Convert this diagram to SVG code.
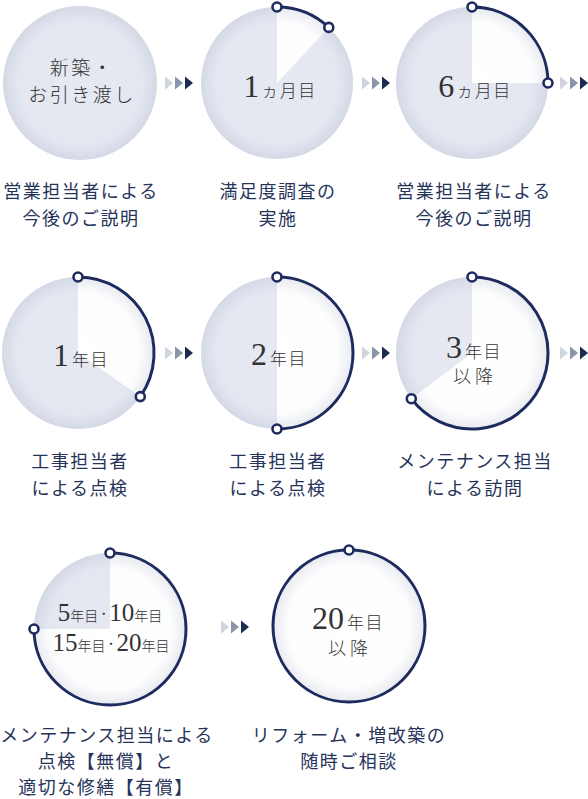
<svg xmlns="http://www.w3.org/2000/svg" width="588" height="799" viewBox="0 0 588 799">
<style>
.bg{fill:#ffffff}
.gray{fill:#e6e9f2}
.wht{fill:#ffffff}
.shade{fill:url(#shade)}
.ring{fill:none;stroke:#1e2b5e;stroke-width:3;stroke-linecap:round}
.dotn{fill:#ffffff;stroke:#1e2b5e;stroke-width:2.6}
.jp{font-family:"Noto Sans CJK JP","Noto Sans",sans-serif;font-weight:300}
.in{fill:#333333;text-anchor:middle}
.num{font-family:"Liberation Serif","DejaVu Serif",serif;font-size:32px;font-weight:400}
.num2{font-family:"Liberation Serif","DejaVu Serif",serif;font-size:25px;font-weight:400}
.unit{font-family:"Noto Sans CJK JP",sans-serif;font-size:17px;letter-spacing:1.5px;font-weight:300}
.unit2{font-family:"Noto Sans CJK JP",sans-serif;font-size:14px;font-weight:300}
.dt{font-family:"Noto Sans CJK JP",sans-serif;font-size:11px;font-weight:400}
.l2{font-family:"Noto Sans CJK JP",sans-serif;font-size:18px;letter-spacing:4px;font-weight:300}
.lbl{fill:#26335a;font-size:18px;letter-spacing:1.5px;text-anchor:middle;font-weight:400}
.a1{fill:#cfd4de}
.a2{fill:#8a95a9}
.a3{fill:#1b2c50}
</style>
<defs>
<radialGradient id="shade" cx="0.5" cy="0.5" r="0.5">
<stop offset="0" stop-color="#8d97b3" stop-opacity="0"/>
<stop offset="0.8" stop-color="#8d97b3" stop-opacity="0.02"/>
<stop offset="1" stop-color="#8d97b3" stop-opacity="0.2"/>
</radialGradient>
<g id="arr">
<polygon class="a1" points="0,-6.5 8,0 0,6.5"/>
<polygon class="a2" points="10,-6.5 18,0 10,6.5"/>
<polygon class="a3" points="20,-6.5 28,0 20,6.5"/>
</g>
</defs>
<rect class="bg" x="0" y="0" width="588" height="799"/>

<g id="node1">
<circle class="gray" cx="80" cy="83" r="77"/>
<circle class="shade" cx="80" cy="83" r="77"/>
<text class="jp in" x="82" y="75" font-size="19" letter-spacing="2.5">新築・</text>
<text class="jp in" x="82" y="102" font-size="19" letter-spacing="2.5">お引き渡し</text>
<text class="jp lbl" x="81" y="198">営業担当者による</text>
<text class="jp lbl" x="81" y="225">今後のご説明</text>
</g>

<g id="node2">
<circle class="gray" cx="277" cy="83" r="76"/>
<path class="wht" d="M277,83 L277,7 A76,76 0 0 1 328.8,27.4 Z"/>
<circle class="shade" cx="277" cy="83" r="76"/>
<path class="ring" d="M277,7 A76,76 0 0 1 328.8,27.4"/>
<circle class="dotn" cx="277" cy="7" r="4.5"/>
<circle class="dotn" cx="328.8" cy="27.4" r="4.5"/>
<text class="in" x="280" y="97"><tspan class="num">1</tspan><tspan class="unit" dx="2">ヵ月目</tspan></text>
<text class="jp lbl" x="278" y="198">満足度調査の</text>
<text class="jp lbl" x="278" y="225">実施</text>
</g>

<g id="node3">
<circle class="gray" cx="472" cy="83" r="76"/>
<path class="wht" d="M472,83 L472,7 A76,76 0 0 1 548,83 Z"/>
<circle class="shade" cx="472" cy="83" r="76"/>
<path class="ring" d="M472,7 A76,76 0 0 1 548,83"/>
<circle class="dotn" cx="472" cy="7" r="4.5"/>
<circle class="dotn" cx="548" cy="83" r="4.5"/>
<text class="in" x="475" y="97"><tspan class="num">6</tspan><tspan class="unit" dx="2">ヵ月目</tspan></text>
<text class="jp lbl" x="474" y="198">営業担当者による</text>
<text class="jp lbl" x="474" y="225">今後のご説明</text>
</g>

<g id="node4">
<circle class="gray" cx="78" cy="353" r="76"/>
<path class="wht" d="M78,353 L78,277 A76,76 0 0 1 140.3,396.6 Z"/>
<circle class="shade" cx="78" cy="353" r="76"/>
<path class="ring" d="M78,277 A76,76 0 0 1 140.3,396.6"/>
<circle class="dotn" cx="78" cy="277" r="4.5"/>
<circle class="dotn" cx="140.3" cy="396.6" r="4.5"/>
<text class="in" x="81" y="366"><tspan class="num">1</tspan><tspan class="unit" dx="3">年目</tspan></text>
<text class="jp lbl" x="80" y="468">工事担当者</text>
<text class="jp lbl" x="80" y="495">による点検</text>
</g>

<g id="node5">
<circle class="gray" cx="277" cy="353" r="76"/>
<path class="wht" d="M277,353 L277,277 A76,76 0 0 1 277,429 Z"/>
<circle class="shade" cx="277" cy="353" r="76"/>
<path class="ring" d="M277,277 A76,76 0 0 1 277,429"/>
<circle class="dotn" cx="277" cy="277" r="4.5"/>
<circle class="dotn" cx="277" cy="429" r="4.5"/>
<text class="in" x="279" y="365"><tspan class="num">2</tspan><tspan class="unit" dx="3">年目</tspan></text>
<text class="jp lbl" x="278" y="468">工事担当者</text>
<text class="jp lbl" x="278" y="495">による点検</text>
</g>

<g id="node6">
<circle class="gray" cx="472" cy="353" r="76"/>
<path class="wht" d="M472,353 L472,277 A76,76 0 1 1 411.3,398.7 Z"/>
<circle class="shade" cx="472" cy="353" r="76"/>
<path class="ring" d="M472,277 A76,76 0 1 1 411.3,398.7"/>
<circle class="dotn" cx="472" cy="277" r="4.5"/>
<circle class="dotn" cx="411.3" cy="398.7" r="4.5"/>
<text class="in" x="474" y="358"><tspan class="num">3</tspan><tspan class="unit" dx="3">年目</tspan></text>
<text class="in l2" x="475" y="383">以降</text>
<text class="jp lbl" x="475" y="468">メンテナンス担当</text>
<text class="jp lbl" x="475" y="495">による訪問</text>
</g>

<g id="node7">
<circle class="gray" cx="110" cy="629" r="76"/>
<path class="wht" d="M110,629 L110,553 A76,76 0 1 1 34,629 Z"/>
<circle class="shade" cx="110" cy="629" r="76"/>
<path class="ring" d="M110,553 A76,76 0 1 1 34,629"/>
<circle class="dotn" cx="110" cy="553" r="4.5"/>
<circle class="dotn" cx="34" cy="629" r="4.5"/>
<text class="in" x="110" y="621"><tspan class="num2">5</tspan><tspan class="unit2">年目</tspan><tspan class="dt" dy="-3">・</tspan><tspan class="num2" dy="3">10</tspan><tspan class="unit2">年目</tspan></text>
<text class="in" x="111" y="651"><tspan class="num2">15</tspan><tspan class="unit2">年目</tspan><tspan class="dt" dy="-3">・</tspan><tspan class="num2" dy="3">20</tspan><tspan class="unit2">年目</tspan></text>
<text class="jp lbl" x="107" y="742" letter-spacing="0.4">メンテナンス担当による</text>
<text class="jp lbl" x="106" y="768">点検【無償】と</text>
<text class="jp lbl" x="106" y="794">適切な修繕【有償】</text>
</g>

<g id="node8">
<circle class="wht" cx="349" cy="626" r="76"/>
<circle class="shade" cx="349" cy="626" r="76"/>
<circle class="ring" cx="349" cy="626" r="76"/>
<circle class="dotn" cx="349" cy="550" r="4.5"/>
<text class="in" x="348" y="629"><tspan class="num">20</tspan><tspan class="unit" dx="3">年目</tspan></text>
<text class="in l2" x="350" y="655">以降</text>
<text class="jp lbl" x="349" y="742">リフォーム・増改築の</text>
<text class="jp lbl" x="349" y="768">随時ご相談</text>
</g>

<g id="connectors">
<use href="#arr" x="165" y="83"/>
<use href="#arr" x="362" y="83"/>
<use href="#arr" x="560" y="83"/>
<use href="#arr" x="165" y="353"/>
<use href="#arr" x="362" y="353"/>
<use href="#arr" x="560" y="353"/>
<use href="#arr" x="221" y="627"/>
</g>
</svg>
